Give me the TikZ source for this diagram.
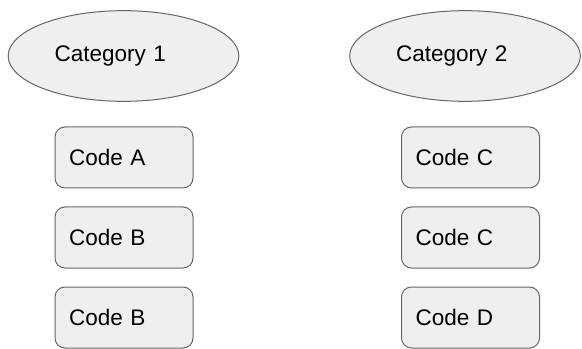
\documentclass[tikz,border=0pt]{standalone}
\usepackage{fontspec}
\setmainfont{Liberation Sans}
\usetikzlibrary{shapes.geometric,positioning}
\definecolor{boxfill}{HTML}{EFEFEF}
\definecolor{boxline}{HTML}{666666}

\begin{document}
\begin{tikzpicture}[x=0.75pt,y=-0.75pt]
\tikzstyle{every node}=[font=\fontsize{16.9}{20}\selectfont]
\tikzstyle{category}=[ellipse, draw=boxline, fill=boxfill, line width=0.75pt,
  minimum width=173pt, minimum height=68pt, text width=103.5pt, align=left, inner sep=0pt]
\tikzstyle{code}=[rectangle, rounded corners=7.5pt, draw=boxline, fill=boxfill, line width=0.75pt,
  text width=82.5pt, inner xsep=10.5pt, minimum height=45.75pt, align=left]
\useasboundingbox (0,0) rectangle (582,349);

\node[category] (cat1) at (123.5,56) {Category 1};
\node[category] (cat2) at (465,56) {Category 2};

\node[code] (codeA) at (124,157.5) {Code A};
\node[code, below=13.5pt of codeA] (codeB) {Code B};
\node[code, below=13.5pt of codeB] (codeBB) {Code B};

\node[code] (codeC) at (470.5,157.5) {Code C};
\node[code, below=13.5pt of codeC] (codeCC) {Code C};
\node[code, below=13.5pt of codeCC] (codeD) {Code D};
\end{tikzpicture}
\end{document}
